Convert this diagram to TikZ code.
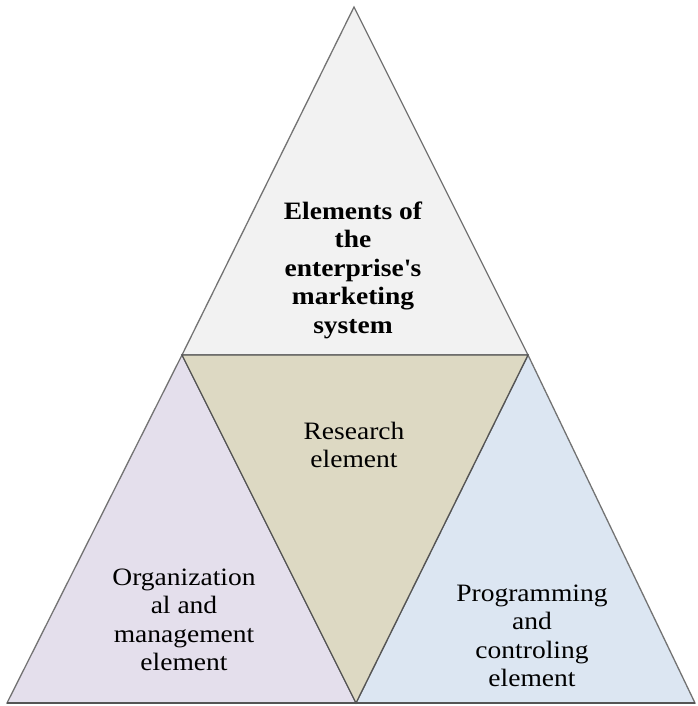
\documentclass[tikz,border=0pt]{standalone}
\usepackage{fontspec}
\setmainfont{Liberation Serif}[FakeStretch=1.1]
\usepackage{tikz}

\definecolor{topfill}{HTML}{F2F2F2}
\definecolor{leftfill}{HTML}{E4DFEC}
\definecolor{midfill}{HTML}{DDD9C3}
\definecolor{rightfill}{HTML}{DCE6F2}
\definecolor{edgegray}{HTML}{737373}
\definecolor{darkedge}{HTML}{555555}

\tikzset{
  part/.style={draw=edgegray, line width=1.3pt, line join=miter},
  label/.style={align=center, font=\fontsize{25}{28.5}\selectfont, inner sep=0pt}
}

\begin{document}
\begin{tikzpicture}[x=1pt,y=-1pt]
		\useasboundingbox (0,0) rectangle (697,706);
		\coordinate (apex) at (354,7);
		\coordinate (jl) at (182,355);
		\coordinate (jr) at (528,355);
		\coordinate (bl) at (7,703);
		\coordinate (bm) at (356,703);
		\coordinate (br) at (695,703);

		\filldraw[part,fill=topfill] (apex) -- (jl) -- (jr) -- cycle;
		\filldraw[part,fill=leftfill] (jl) -- (bl) -- (bm) -- cycle;
		\filldraw[part,fill=rightfill] (jr) -- (bm) -- (br) -- cycle;
		\filldraw[part,draw=darkedge,fill=midfill] (jl) -- (jr) -- (bm) -- cycle;
		\draw[darkedge,line width=1.3pt] (bl) -- (br);

		\node[label,font=\fontsize{25}{28.5}\selectfont\bfseries] (sys) at (353,270) {Elements of\\the\\enterprise\textquotesingle s\\marketing\\system};
		\node[label] (research) at (354,445) {Research\\element};
		\node[label] (org) at (184,620) {Organization\\al and\\management\\element};
		\node[label] (prog) at (532,636) {Programming\\and\\controling\\element};
	\end{tikzpicture}
\end{document}
